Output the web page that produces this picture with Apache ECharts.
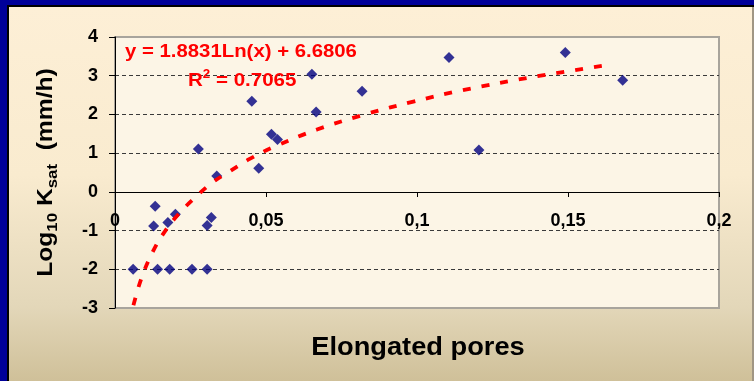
<!DOCTYPE html>
<html>
<head>
<meta charset="utf-8">
<script src="https://cdn.jsdelivr.net/npm/echarts@6/dist/echarts.min.js"></script>
<style>
html,body{margin:0;padding:0;background:#000099;}
#c{width:754px;height:381px;}
</style>
</head>
<body>
<div id="c"></div>
<script>
// ---- data ----
const poresX = [0.0060, 0.0133, 0.0128, 0.0141, 0.0175, 0.0200, 0.0181, 0.0255, 0.0276, 0.0305, 0.0305, 0.0319, 0.0337, 0.0453, 0.0476, 0.0518, 0.0538, 0.0652, 0.0666, 0.0818, 0.1106, 0.1205, 0.1491, 0.1681];
const logKsat = [-2.00, -0.37, -0.88, -2.00, -0.79, -0.58, -2.00, -2.00, 1.11, -2.00, -0.87, -0.66, 0.41, 2.34, 0.61, 1.49, 1.35, 3.04, 2.06, 2.60, 3.47, 1.08, 3.60, 2.88];
// logarithmic trend line
const trendX = [0.0061, 0.0088, 0.0127, 0.0167, 0.0210, 0.0255, 0.0319, 0.0380, 0.0446, 0.0526, 0.0669, 0.0836, 0.0988, 0.1147, 0.1386, 0.1633];
const trendY = [-2.93, -2.22, -1.52, -1.00, -0.58, -0.22, 0.22, 0.53, 0.85, 1.16, 1.61, 2.02, 2.33, 2.62, 2.97, 3.28];
const xTickLabels = ['0', '0,05', '0,1', '0,15', '0,2'];
const xTitle = 'Elongated pores';
const equationText = 'y = 1.8831Ln(x) + 6.6806';
const r2Value = '0.7065';

const FONT = '"Liberation Sans", Arial, sans-serif';
const chart = echarts.init(document.getElementById('c'), null, {renderer: 'canvas'});

const scatterData = poresX.map((x, i) => [x, logKsat[i]]);
const trendData = trendX.map((x, i) => [x, trendY[i]]);

chart.setOption({
  animation: false,
  backgroundColor: '#000099',
  grid: {
    left: 115, right: 35, top: 37, bottom: 73,
    show: true,
    backgroundColor: '#FCF5E6',
    borderColor: '#A8A49C',
    borderWidth: 2
  },
  xAxis: {
    type: 'value', min: 0, max: 0.2, interval: 0.05,
    offset: -116,
    axisLine: {show: true, onZero: false, lineStyle: {color: '#000', width: 1}},
    axisTick: {show: true, inside: false, length: 5, lineStyle: {color: '#000'}},
    axisLabel: {
      margin: 20, fontSize: 18, fontWeight: 'bold', fontFamily: FONT, color: '#000',
      formatter: v => xTickLabels[Math.round(v / 0.05)]
    },
    splitLine: {show: false}
  },
  yAxis: {
    type: 'value', min: -3, max: 4, interval: 1,
    axisLine: {show: true, onZero: false, lineStyle: {color: '#000', width: 1}},
    axisTick: {show: true, inside: false, length: 6, lineStyle: {color: '#000'}},
    axisLabel: {margin: 17, fontSize: 18, fontWeight: 'bold', fontFamily: FONT, color: '#000'},
    splitLine: {show: true, showMinLine: false, showMaxLine: false,
      lineStyle: {color: '#3a3a3a', width: 1, type: [4, 3]}}
  },
  series: [
    {
      type: 'scatter', data: scatterData, symbol: 'diamond', symbolSize: 11,
      itemStyle: {color: '#000080'}, z: 3
    },
    {
      type: 'line', data: trendData, smooth: 0.4, showSymbol: false, symbol: 'none',
      lineStyle: {color: '#FF0000', width: 3.8, type: [8, 11], cap: 'butt'}, z: 4
    }
  ],
  graphic: [
    {type: 'rect', z: -20, silent: true, shape: {x: 7, y: 5, width: 747, height: 376}, style: {fill: '#000000'}},
    {type: 'rect', z: -19, silent: true, shape: {x: 9, y: 7, width: 745, height: 374},
      style: {fill: {type: 'linear', x: 0, y: 0, x2: 0, y2: 1, colorStops: [
        {offset: 0, color: '#FDEFD6'}, {offset: 0.45, color: '#F9EBCF'},
        {offset: 0.8, color: '#E3D7B9'}, {offset: 1, color: '#CFC099'}]}}},
    {type: 'rect', z: -18, silent: true, shape: {x: 752, y: 7, width: 2, height: 374}, style: {fill: '#A09684'}},
    {type: 'text', z: 50, x: 125, y: 52, scaleX: 1.1, silent: true,
      style: {text: equationText, fill: '#FF0000', font: 'bold 18.5px ' + FONT, textAlign: 'left', textVerticalAlign: 'middle'}},
    {type: 'text', z: 50, x: 188, y: 81, scaleX: 1.11, silent: true,
      style: {text: '{m|R}{s|2}{m| = ' + r2Value + '}', textAlign: 'left', textVerticalAlign: 'middle',
        rich: {
          m: {fill: '#FF0000', font: 'bold 18.5px ' + FONT, lineHeight: 24},
          s: {fill: '#FF0000', font: 'bold 12px ' + FONT, lineHeight: 14, verticalAlign: 'top'}
        }}},
    {type: 'text', z: 50, x: 418, y: 348, scaleX: 1.09, silent: true,
      style: {text: xTitle, fill: '#000', font: 'bold 25px ' + FONT, textAlign: 'center', textVerticalAlign: 'middle'}},
    {type: 'text', z: 50, x: 46, y: 172.5, rotation: Math.PI / 2, scaleX: 1.12, silent: true,
      style: {text: '{m|Log}{s|10}{m| K}{s|sat}{m|  (mm/h)}', textAlign: 'center', textVerticalAlign: 'middle',
        rich: {
          m: {fill: '#000', font: 'bold 22px ' + FONT, lineHeight: 28},
          s: {fill: '#000', font: 'bold 15px ' + FONT, lineHeight: 16, verticalAlign: 'bottom'}
        }}}
  ]
});
</script>
</body>
</html>
